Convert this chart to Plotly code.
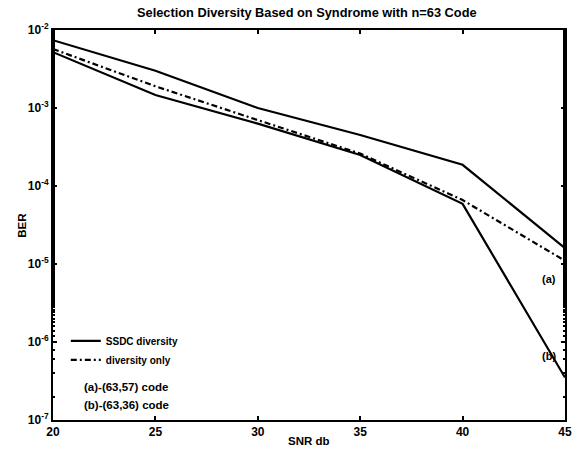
import plotly.graph_objects as go

snr = [20, 25, 30, 35, 40, 45]
ber_ssdc_a = [7.4e-3, 3.0e-3, 1.0e-3, 4.5e-4, 1.87e-4, 1.6e-5]
ber_ssdc_b = [5.2e-3, 1.47e-3, 6.3e-4, 2.5e-4, 5.9e-5, 3.5e-7]
ber_div_only = [5.7e-3, 1.9e-3, 7.0e-4, 2.6e-4, 6.6e-5, 1.1e-5]

ytick_vals = [1e-2, 1e-3, 1e-4, 1e-5, 1e-6, 1e-7]
ytick_text = ["10<sup>-2</sup>", "10<sup>-3</sup>", "10<sup>-4</sup>", "10<sup>-5</sup>", "10<sup>-6</sup>", "10<sup>-7</sup>"]
xtick_vals = [20, 25, 30, 35, 40, 45]

FONT = "Liberation Sans"

fig = go.Figure()
fig.add_trace(go.Scatter(x=snr, y=ber_ssdc_a, mode="lines", name="<b>SSDC diversity</b>",
                         line=dict(color="black", width=2.2), showlegend=True))
fig.add_trace(go.Scatter(x=snr, y=ber_div_only, mode="lines", name="<b>diversity only</b>",
                         line=dict(color="black", width=2.2, dash="6px,3px,2px,3px"), showlegend=True))
fig.add_trace(go.Scatter(x=snr, y=ber_ssdc_b, mode="lines", name="<b>SSDC diversity</b>",
                         line=dict(color="black", width=2.2), showlegend=False))

fig.update_layout(
    width=577, height=455,
    margin=dict(l=53, r=12, t=30, b=35, autoexpand=False),
    paper_bgcolor="white", plot_bgcolor="white",
    font=dict(family=FONT, color="black", size=11),
    showlegend=True,
    legend=dict(x=0.025, y=0.24, xanchor="left", yanchor="top",
                bgcolor="rgba(0,0,0,0)", font=dict(size=10, family=FONT),
                tracegroupgap=0, itemwidth=30),
    xaxis=dict(range=[20, 45], tickvals=xtick_vals,
               ticktext=["<b>%d</b>" % v for v in xtick_vals],
               tickfont=dict(size=12),
               ticks="inside", ticklen=4, tickwidth=1.5, tickcolor="black",
               showline=True, linecolor="black", linewidth=2, mirror="ticks",
               showgrid=False, zeroline=False, automargin=False),
    yaxis=dict(type="log", range=[-7, -2], tickvals=ytick_vals, ticktext=["<b>%s</b>" % t for t in ytick_text],
               tickfont=dict(size=12),
               ticks="inside", ticklen=4, tickwidth=1.5, tickcolor="black",
               minor=dict(ticks="inside", ticklen=2, tickcolor="black", showgrid=False),
               showline=True, linecolor="black", linewidth=2, mirror="ticks",
               showgrid=False, zeroline=False, automargin=False),
    annotations=[
        dict(x=0.496, y=1.046, xref="paper", yref="paper", xanchor="center", yanchor="middle",
             text="<b>Selection Diversity Based on Syndrome with n=63 Code</b>", showarrow=False,
             font=dict(size=12.8)),
        dict(x=0.5, y=-0.053, xref="paper", yref="paper", xanchor="center", yanchor="middle",
             text="<b>SNR db</b>", showarrow=False, font=dict(size=11.5)),
        dict(x=-0.061, y=0.5, xref="paper", yref="paper", xanchor="center", yanchor="middle",
             text="<b>BER</b>", textangle=-90, showarrow=False, font=dict(size=11.5)),
        dict(x=44.2, y=-5.19, xref="x", yref="y", text="<b>(a)</b>", showarrow=False, font=dict(size=11)),
        dict(x=44.2, y=-6.18, xref="x", yref="y", text="<b>(b)</b>", showarrow=False, font=dict(size=11)),
        dict(x=0.057, y=0.085, xref="paper", yref="paper", xanchor="left", yanchor="middle",
             text="<b>(a)-(63,57) code</b>", showarrow=False, font=dict(size=11.5)),
        dict(x=0.057, y=0.039, xref="paper", yref="paper", xanchor="left", yanchor="middle",
             text="<b>(b)-(63,36) code</b>", showarrow=False, font=dict(size=11.5)),
    ],
)

fig.write_html("out.html", config={"displayModeBar": False},
               post_script="document.body.style.margin='0px';")
